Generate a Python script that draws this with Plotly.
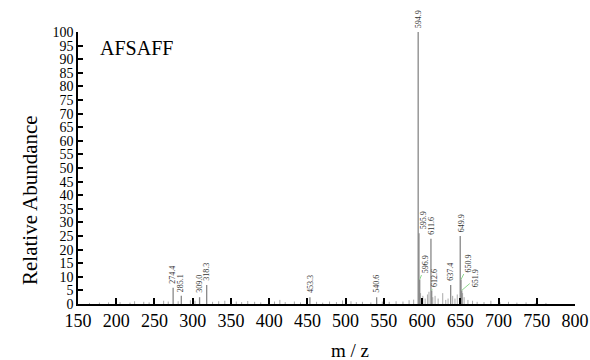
import plotly.graph_objects as go

# Labelled peaks (m/z, relative abundance)
peak_mz = [274.4, 285.1, 309.0, 318.3, 453.3, 540.6, 594.9, 595.9, 596.9,
           611.6, 612.6, 637.4, 649.9, 650.9, 651.9]
peak_ab = [6.0, 3.0, 2.5, 7.0, 2.5, 2.5, 100.0, 26.0, 9.0,
           24.0, 5.0, 7.0, 25.0, 9.0, 5.0]
peak_lbl = ["274.4", "285.1", "309.0", "318.3", "453.3", "540.6", "594.9", "595.9",
            "596.9", "611.6", "612.6", "637.4", "649.9", "650.9", "651.9"]
# label offsets in px (leader lines drawn for non-zero offsets)
lbl_dx = [0, 0, 0, 0, 0, 0, 0, 0, 6, 0, 3, 0, 0, 8, 14]
lbl_dy = [0, 0, 0, 0, 0, 0, 0, 0, -3, 0, 0, 0, 0, -4, 0]
lbl_xshift = [0, 0, 0, 0, 0, 0, 0, 4, 0, 1, 0, 0, 1, 0, 0]

# Small unlabelled noise peaks
noise_mz = [165, 178, 190, 205, 218, 224, 236, 243, 262, 268, 281, 297, 303, 326, 334,
            342, 357, 364, 372, 381, 389, 407, 414, 421, 433, 441, 462, 470, 479, 488,
            496, 507, 514, 522, 533, 548, 557, 566, 575, 583, 589, 598, 601, 604, 607,
            609, 614, 617, 621, 627, 631, 634, 640, 643, 646, 653, 655, 660, 666, 672,
            681, 690, 702, 713, 724, 736, 748, 762]
noise_ab = [0.4, 0.5, 0.6, 0.7, 0.5, 1.0, 0.8, 0.6, 1.2, 0.9, 1.0, 1.4, 1.2, 0.8, 1.0,
            1.2, 0.9, 0.7, 1.1, 0.8, 0.6, 0.9, 1.5, 0.7, 0.9, 0.6, 0.8, 0.5, 0.9, 0.7,
            1.3, 1.0, 0.7, 0.8, 0.6, 0.9, 0.8, 1.0, 0.9, 1.4, 1.6, 4.0, 3.0, 2.0, 3.5,
            4.5, 2.5, 3.0, 2.0, 4.0, 1.5, 2.0, 3.0, 2.0, 3.5, 4.0, 2.5, 1.5, 1.2, 0.8,
            0.7, 1.2, 0.6, 0.8, 0.5, 0.6, 0.4, 0.4]

x_ticks = list(range(150, 801, 50))
y_ticks = list(range(0, 101, 5))

fig = go.Figure()

def stems(xs, ys):
    X, Y = [], []
    for a, b in zip(xs, ys):
        X += [a, a, None]
        Y += [0, b, None]
    return X, Y

nx, ny = stems(noise_mz, noise_ab)
fig.add_trace(go.Scatter(x=nx, y=ny, mode="lines", line=dict(color="#aaaaaa", width=1),
                         hoverinfo="skip", showlegend=False))
px_, py_ = stems(peak_mz, peak_ab)
fig.add_trace(go.Scatter(x=px_, y=py_, mode="lines", line=dict(color="#888888", width=1.3),
                         hoverinfo="skip", showlegend=False))

for m, h, t, dx, dy, xs in zip(peak_mz, peak_ab, peak_lbl, lbl_dx, lbl_dy, lbl_xshift):
    if dx == 0 and dy == 0:
        fig.add_annotation(x=m, y=h, text=t, textangle=-90, showarrow=False,
                           yanchor="bottom", xanchor="center", yshift=2, xshift=xs,
                           font=dict(family="Liberation Serif", size=8, color="#333333"))
    else:
        fig.add_annotation(x=m, y=h, text=t, textangle=-90, showarrow=True,
                           ax=dx, ay=dy - 12, arrowhead=0, arrowwidth=1,
                           arrowcolor="#8fd88f", standoff=0,
                           font=dict(family="Liberation Serif", size=8, color="#333333"))

fig.add_annotation(xref="paper", yref="paper", x=0.04, y=0.94, text="AFSAFF",
                   showarrow=False, xanchor="left", yanchor="middle",
                   font=dict(family="Liberation Serif", size=20, color="black"))

# axis titles placed as paper annotations
fig.add_annotation(xref="paper", yref="paper", x=(30 - 78) / 497, y=(304 - 200) / 272,
                   text="Relative Abundance", textangle=-90, showarrow=False,
                   xanchor="center", yanchor="middle",
                   font=dict(family="Liberation Serif", size=21, color="black"))
fig.add_annotation(xref="paper", yref="paper", x=(350 - 78) / 497, y=-(350 - 304) / 272,
                   text="m / z", showarrow=False, xanchor="center", yanchor="middle",
                   font=dict(family="Liberation Serif", size=19, color="black"))

fig.update_layout(
    width=590, height=360,
    margin=dict(l=78, r=15, t=32, b=56, autoexpand=False),
    plot_bgcolor="white", paper_bgcolor="white",
    font=dict(family="Liberation Serif", color="black"),
    xaxis=dict(range=[150, 800], tickvals=x_ticks, ticks="inside", ticklen=6,
               tickcolor="black", tickwidth=1.5, showline=True, linecolor="black",
               linewidth=1.5, showgrid=False, zeroline=False, automargin=False,
               tickfont=dict(family="Liberation Serif", size=18)),
    yaxis=dict(range=[0, 100], tickvals=y_ticks, ticks="inside", ticklen=5,
               tickcolor="black", tickwidth=1.5, showline=True, linecolor="black",
               linewidth=1.5, showgrid=False, zeroline=False, automargin=False,
               tickfont=dict(family="Liberation Serif", size=14)),
)

fig.write_html("out.html")
